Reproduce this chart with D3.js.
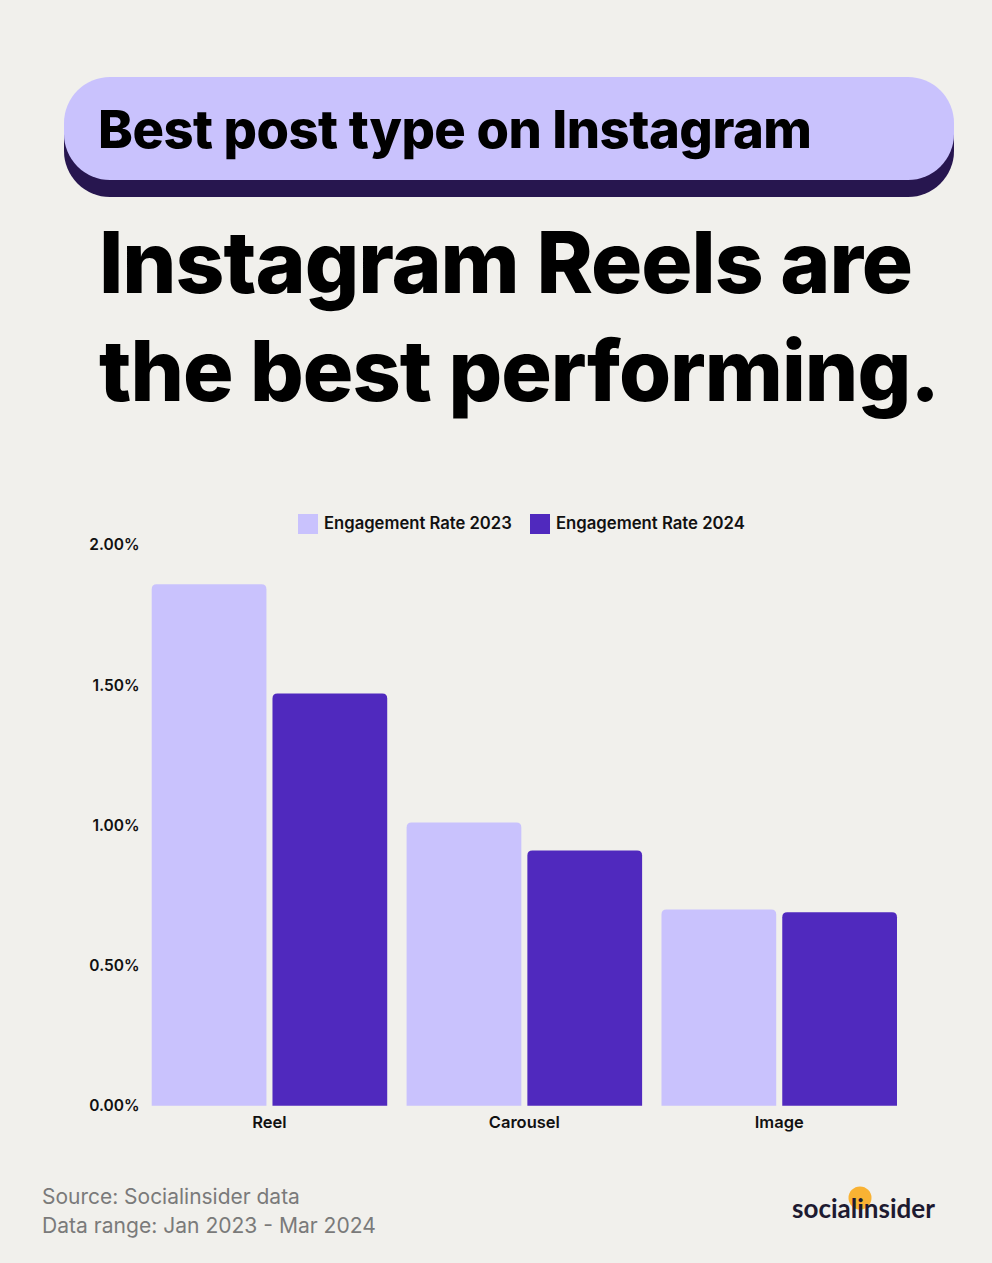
<!DOCTYPE html>
<html>
<head>
<meta charset="utf-8">
<script src="https://cdn.jsdelivr.net/npm/d3@7"></script>
<style>
  html, body { margin: 0; padding: 0; background: #f1f0ec; }
  svg { display: block; }
</style>
</head>
<body>
<svg id="chart" width="992" height="1263"></svg>
<script>
// ---- data ----
const categories = ["Reel", "Carousel", "Image"];
const seriesNames = ["Engagement Rate 2023", "Engagement Rate 2024"];
const er2023 = [1.86, 1.01, 0.70];
const er2024 = [1.47, 0.91, 0.69];
const yTicks = [0, 0.5, 1.0, 1.5, 2.0];
const headerText = "Best post type on Instagram";
const titleLines = ["Instagram Reels are", "the best performing."];
const footerLines = ["Source: Socialinsider data", "Data range: Jan 2023 - Mar 2024"];
const brand = "socialinsider";

const colors = ["#c9c2fd", "#5029be"];
const rows = categories.map((c, i) => ({ cat: c, values: [er2023[i], er2024[i]] }));

const svg = d3.select("#chart");
svg.append("rect").attr("width", 992).attr("height", 1263).attr("fill", "#f1f0ec");

function fitWidth(sel, target) {
  const node = sel.node();
  const fs = parseFloat(sel.attr("font-size"));
  const w = node.getComputedTextLength();
  sel.attr("font-size", fs * target / w);
}

// ---- header pill ----
const pill = { x: 64, y: 77, w: 890, h: 103, r: 46, drop: 17 };
svg.append("rect").attr("x", pill.x).attr("y", pill.y + pill.drop)
  .attr("width", pill.w).attr("height", pill.h).attr("rx", pill.r).attr("fill", "#27164f");
svg.append("rect").attr("x", pill.x).attr("y", pill.y)
  .attr("width", pill.w).attr("height", pill.h).attr("rx", pill.r).attr("fill", "#c9c2fd");
const ht = svg.append("text").attr("x", 98).attr("y", 148)
  .attr("font-family", "Inter, sans-serif").attr("font-weight", 800)
  .attr("font-size", 50).attr("letter-spacing", "-0.5").attr("fill", "#000").text(headerText);
fitWidth(ht, 713);

// ---- big title ----
const tBase = [293, 401];
const tWidths = [813, 840];
titleLines.forEach((line, i) => {
  const t = svg.append("text").attr("x", 99).attr("y", tBase[i])
    .attr("font-family", "Inter, sans-serif").attr("font-weight", 800)
    .attr("font-size", 84).attr("letter-spacing", "-1").attr("fill", "#000").text(line);
  fitWidth(t, tWidths[i]);
});

// ---- scales ----
const y = d3.scaleLinear().domain([0, 2.0]).range([1105.7, 545]);
const x0 = d3.scaleBand().domain(categories).range([151.7, 897]).paddingInner(0.076).paddingOuter(0);
const x1 = d3.scaleBand().domain([0, 1]).range([0, x0.bandwidth()]).paddingInner(0.05);

// ---- y axis labels ----
const yAxis = d3.axisLeft(y).tickValues(yTicks).tickFormat(d => d3.format(".2f")(d) + "%").tickSize(0).tickPadding(0);
const gy = svg.append("g").attr("transform", "translate(139.5,0)").call(yAxis);
gy.select(".domain").remove();
gy.selectAll("text").attr("font-family", "Inter, sans-serif").attr("font-weight", 600)
  .attr("font-size", 15.5).attr("fill", "#111");

// ---- bars ----
function topRounded(xp, yp, w, h, r) {
  r = Math.min(r, h, w / 2);
  return `M${xp},${yp + h}V${yp + r}Q${xp},${yp} ${xp + r},${yp}H${xp + w - r}Q${xp + w},${yp} ${xp + w},${yp + r}V${yp + h}Z`;
}
const groups = svg.append("g").selectAll("g").data(rows).join("g")
  .attr("transform", d => `translate(${x0(d.cat)},0)`);
groups.selectAll("path").data(d => d.values.map((v, k) => ({ v, k }))).join("path")
  .attr("d", d => topRounded(x1(d.k), y(d.v), x1.bandwidth(), y(0) - y(d.v), 5))
  .attr("fill", d => colors[d.k]);

// ---- x axis labels ----
const xAxis = d3.axisBottom(x0).tickSize(0).tickPadding(0);
const gx = svg.append("g").attr("transform", `translate(0,${1116})`).call(xAxis);
gx.select(".domain").remove();
gx.selectAll("text").attr("font-family", "Inter, sans-serif").attr("font-weight", 600)
  .attr("font-size", 16.5).attr("fill", "#111");

// ---- legend ----
const legendX = [298, 530];
const legendW = [188, 189];
const lg = svg.append("g").selectAll("g").data(seriesNames).join("g")
  .attr("transform", (d, i) => `translate(${legendX[i]},514)`);
lg.append("rect").attr("width", 20).attr("height", 20).attr("fill", (d, i) => colors[i]);
lg.append("text").attr("x", 26).attr("y", 9).attr("dy", "0.35em")
  .attr("font-family", "Inter, sans-serif").attr("font-weight", 600)
  .attr("font-size", 16).attr("fill", "#111").text(d => d)
  .each(function (d, i) { fitWidth(d3.select(this), legendW[i]); });

// ---- footer ----
const fBase = [1204, 1233];
const fWidths = [258, 334];
footerLines.forEach((line, i) => {
  const f = svg.append("text").attr("x", 42).attr("y", fBase[i])
    .attr("font-family", "Inter, sans-serif").attr("font-weight", 400)
    .attr("font-size", 20).attr("fill", "#7a7a7a").text(line);
  fitWidth(f, fWidths[i]);
});

// ---- brand logo ----
svg.append("circle").attr("cx", 860).attr("cy", 1198).attr("r", 11.5).attr("fill", "#f9b233");
const bt = svg.append("text").attr("x", 792).attr("y", 1218)
  .attr("font-family", "Lato, sans-serif").attr("font-weight", 700)
  .attr("font-size", 24).attr("fill", "#1d1a30").text(brand);
fitWidth(bt, 143);
</script>
</body>
</html>
